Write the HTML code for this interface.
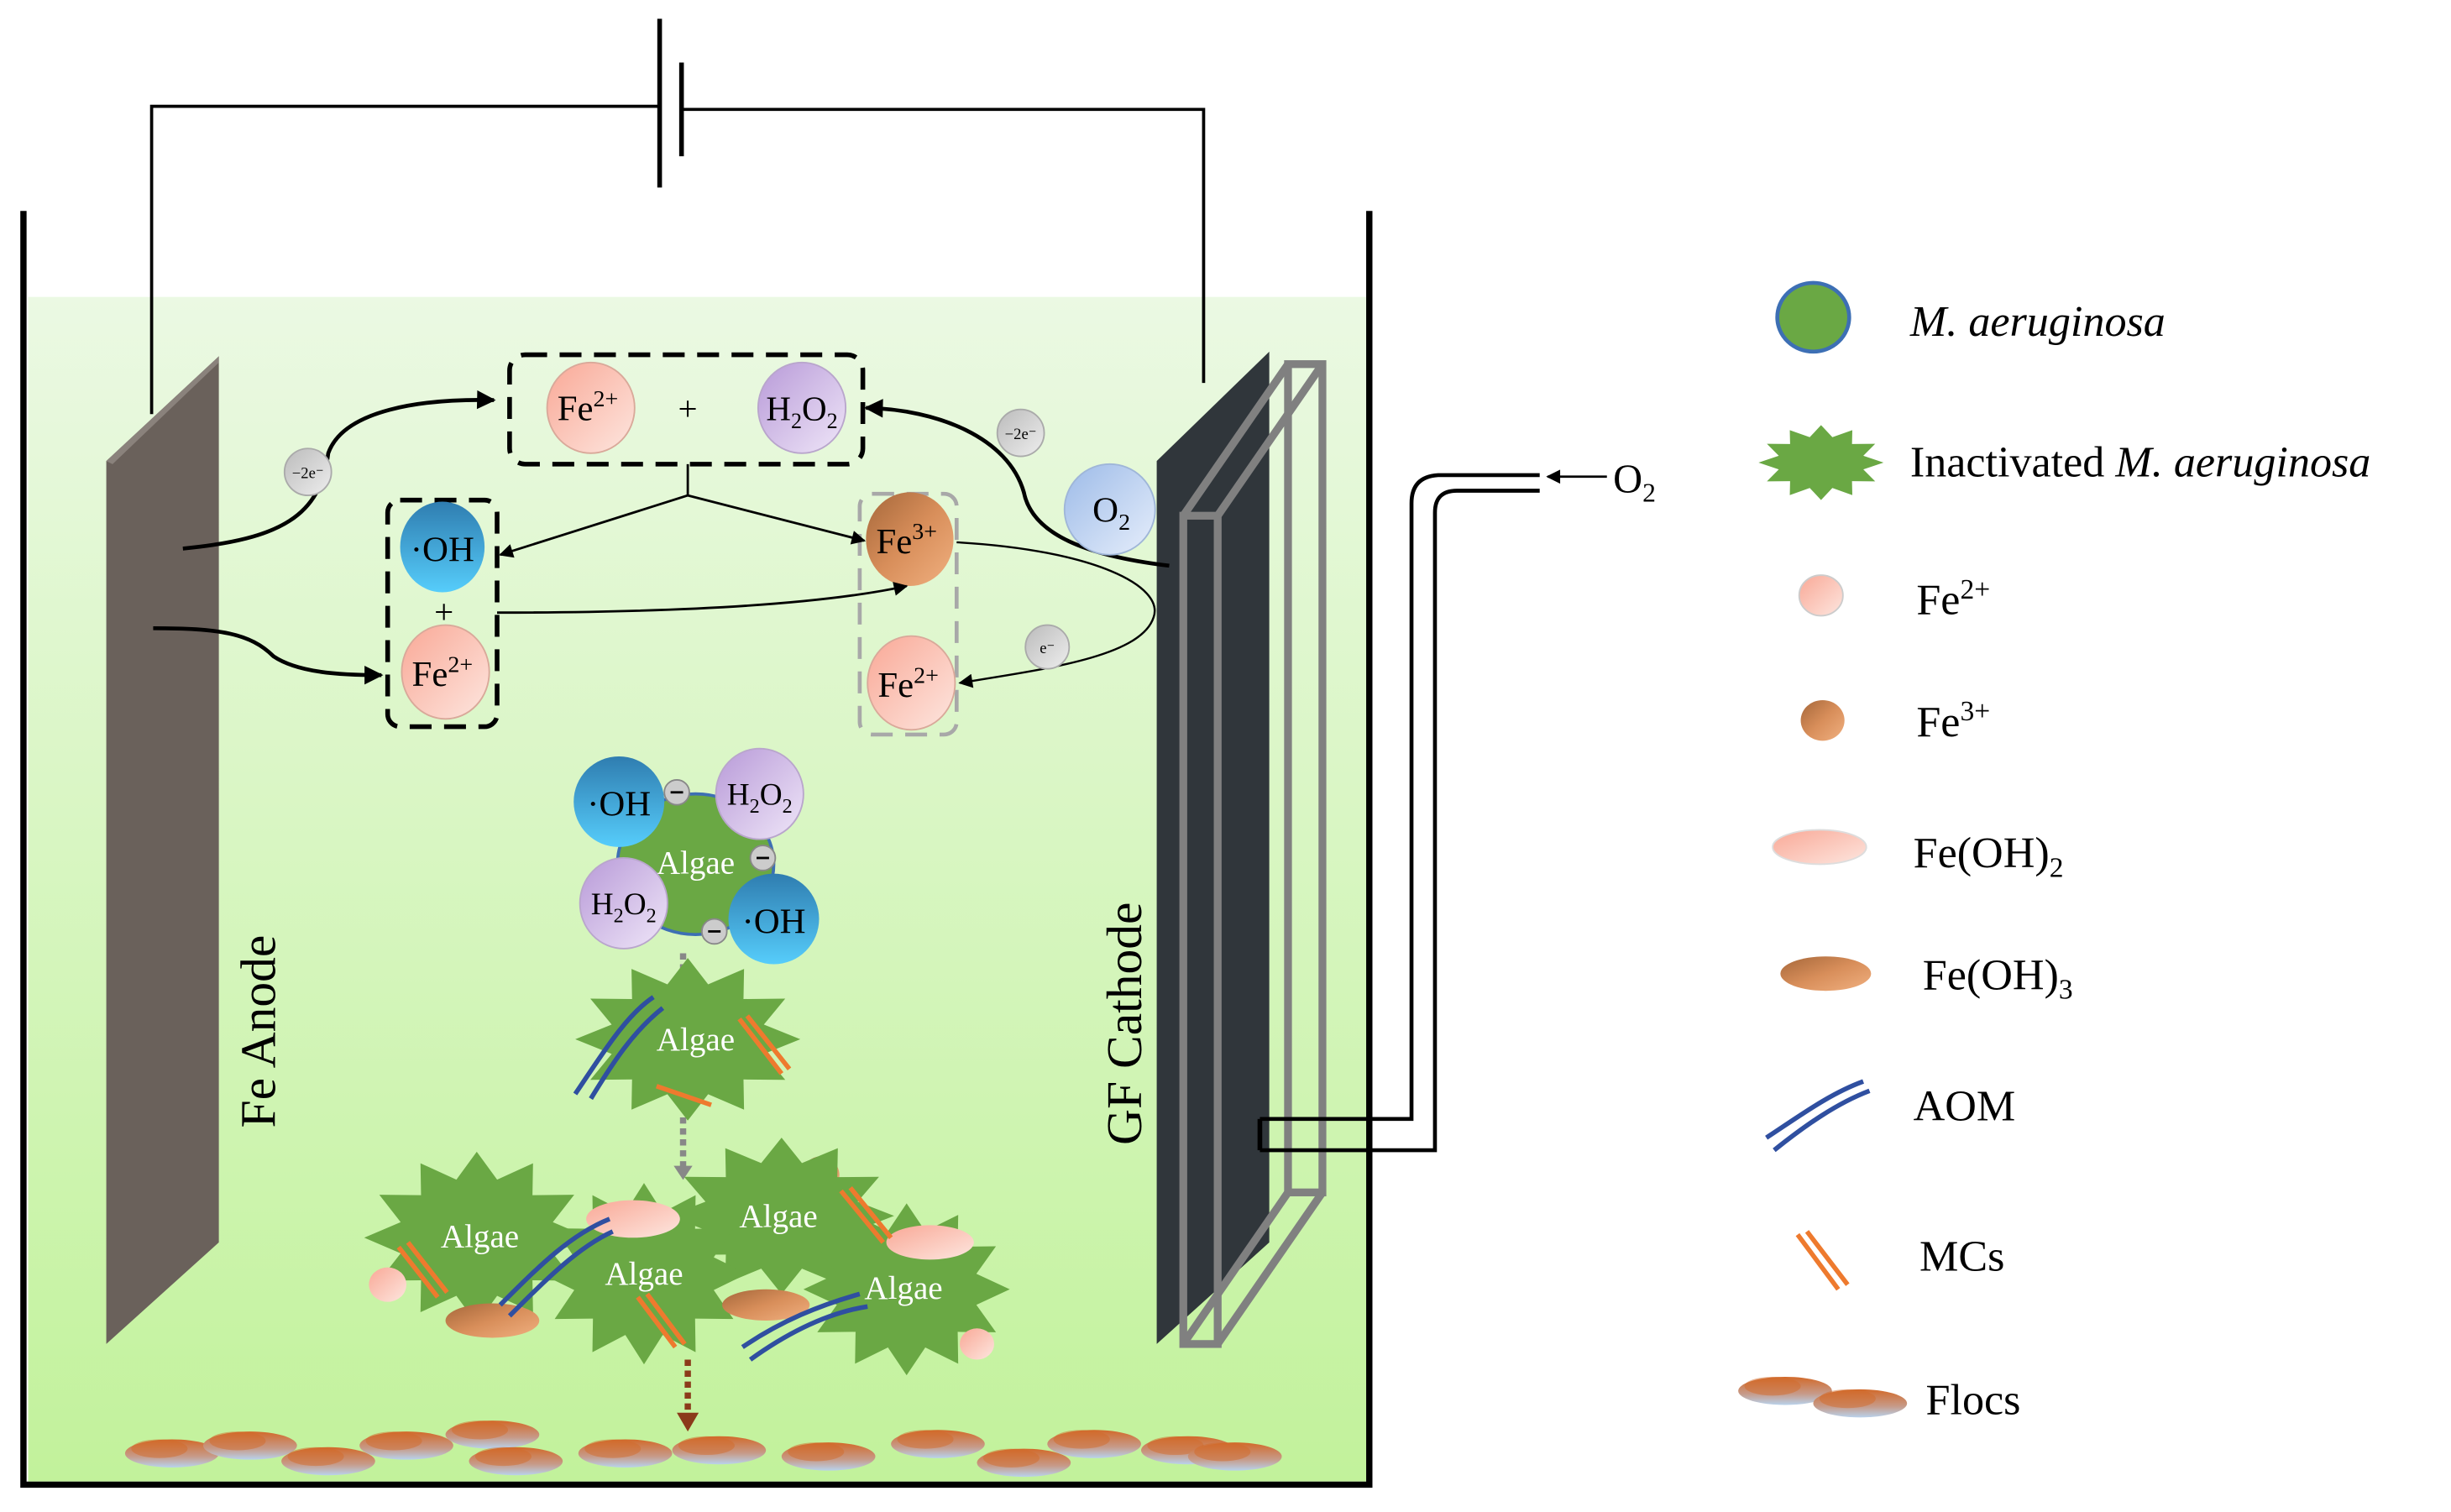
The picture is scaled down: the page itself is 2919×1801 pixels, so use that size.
<!DOCTYPE html>
<html><head><meta charset="utf-8">
<style>
html,body{margin:0;padding:0;background:#fff;}
svg{display:block;}
text{font-family:"Liberation Serif",serif;}
</style></head>
<body>
<svg width="2919" height="1801" viewBox="0 0 1568 967.5" preserveAspectRatio="none" xmlns="http://www.w3.org/2000/svg">
<defs>
<linearGradient id="water" x1="0" y1="0" x2="0" y2="1">
<stop offset="0" stop-color="#ebf9e3"/><stop offset="1" stop-color="#c2f29b"/></linearGradient>
<linearGradient id="fe2" x1="0" y1="0" x2="1" y2="1"><stop offset="0" stop-color="#f9a896"/><stop offset="1" stop-color="#fde6df"/></linearGradient>
<linearGradient id="fe3" x1="0" y1="0" x2="1" y2="1"><stop offset="0" stop-color="#a5673a"/><stop offset="0.5" stop-color="#d88e5a"/><stop offset="1" stop-color="#f0b080"/></linearGradient>
<linearGradient id="h2o2" x1="0" y1="0" x2="1" y2="1"><stop offset="0" stop-color="#b89ad8"/><stop offset="1" stop-color="#efe6f8"/></linearGradient>
<linearGradient id="oh" x1="0" y1="0" x2="0" y2="1"><stop offset="0" stop-color="#2f7db0"/><stop offset="1" stop-color="#56cdfb"/></linearGradient>
<linearGradient id="o2" x1="0" y1="0" x2="1" y2="1"><stop offset="0" stop-color="#9dbbe8"/><stop offset="1" stop-color="#e6eefb"/></linearGradient>
<linearGradient id="el" x1="0" y1="0" x2="1" y2="1"><stop offset="0" stop-color="#bbb"/><stop offset="1" stop-color="#eee"/></linearGradient>
<linearGradient id="floc" x1="0" y1="0" x2="0" y2="1"><stop offset="0" stop-color="#d26a2a"/><stop offset="0.6" stop-color="#c79a88"/><stop offset="1" stop-color="#b9d2ec"/></linearGradient>
<polygon id="star" points="1,0 .676,.181 .866,.5 .495,.495 .5,.866 .181,.676 0,1 -.181,.676 -.5,.866 -.495,.495 -.866,.5 -.676,.181 -1,0 -.676,-.181 -.866,-.5 -.495,-.495 -.5,-.866 -.181,-.676 0,-1 .181,-.676 .5,-.866 .495,-.495 .866,-.5 .676,-.181" fill="#6aa844"/>
<marker id="ah" viewBox="0 0 10 10" refX="9" refY="5" markerUnits="userSpaceOnUse" markerWidth="11" markerHeight="9" orient="auto"><path d="M0,0 L10,5 L0,10 z" fill="#000"/></marker>
<marker id="ahs" viewBox="0 0 10 10" refX="9" refY="5" markerUnits="userSpaceOnUse" markerWidth="14" markerHeight="12" orient="auto"><path d="M0,0 L10,5 L0,10 z" fill="#000"/></marker>
<g id="floc1"><ellipse cx="0" cy="0" rx="30" ry="9" fill="url(#floc)"/><ellipse cx="-8" cy="-3" rx="18" ry="6" fill="#d26a2a" opacity=".5"/></g>
</defs>

<rect x="18" y="190" width="856" height="758" fill="url(#water)"/>
<path d="M15,135 L15,950 L876,950 L876,135" fill="none" stroke="#000" stroke-width="4"/>

<path d="M97,265 L97,68 L422,68" fill="none" stroke="#000" stroke-width="2"/>
<path d="M436,70 L770,70 L770,245" fill="none" stroke="#000" stroke-width="2"/>
<line x1="422" y1="12" x2="422" y2="120" stroke="#000" stroke-width="3"/>
<line x1="436" y1="40" x2="436" y2="100" stroke="#000" stroke-width="3"/>

<polygon points="68,295 140,228 140,795 68,860" fill="#6a615b"/>
<polygon points="68,295 140,228 140,232 72,297" fill="#8a827c"/>
<text transform="translate(176,660) rotate(-90)" font-size="32" text-anchor="middle">Fe  Anode</text>

<polygon points="740,295 812,225 812,795 740,860" fill="#30363b"/>
<g fill="none" stroke="#808080" stroke-width="5">
<rect x="757" y="330" width="22" height="530"/>
<rect x="824" y="233" width="22" height="530"/>
<line x1="757" y1="330" x2="824" y2="233"/><line x1="779" y1="330" x2="846" y2="233"/>
<line x1="757" y1="860" x2="824" y2="763"/><line x1="779" y1="860" x2="846" y2="763"/>
</g>
<text transform="translate(730,655) rotate(-90)" font-size="32" text-anchor="middle">GF  Cathode</text>
<path d="M806,716 L903,716 L903,322 Q903,305 920,304 L985,304" fill="none" stroke="#000" stroke-width="2.5"/>
<path d="M806,736 L918,736 L918,328 Q918,314 932,314 L985,314" fill="none" stroke="#000" stroke-width="2.5"/>
<line x1="806" y1="716" x2="806" y2="736" stroke="#000" stroke-width="3"/>
<line x1="1028" y1="305" x2="990" y2="305" stroke="#000" stroke-width="1.5" marker-end="url(#ah)"/>
<text x="1032" y="315" font-size="26">O<tspan font-size="17" dy="6">2</tspan></text>

<rect x="326" y="227" width="226" height="70" rx="10" fill="none" stroke="#000" stroke-width="3" stroke-dasharray="14,8"/>
<ellipse cx="378" cy="261" rx="28" ry="29" fill="url(#fe2)" stroke="#d9a99a"/>
<text x="376" y="269" font-size="23" text-anchor="middle">Fe<tspan font-size="15" dy="-9">2+</tspan></text>
<text x="440" y="269" font-size="22" text-anchor="middle">+</text>
<ellipse cx="513" cy="261" rx="28" ry="29" fill="url(#h2o2)" stroke="#b9a6cc"/>
<text x="513" y="269" font-size="22" text-anchor="middle">H<tspan font-size="14" dy="5">2</tspan><tspan dy="-5">O</tspan><tspan font-size="14" dy="5">2</tspan></text>

<rect x="248" y="320" width="70" height="145" rx="8" fill="none" stroke="#000" stroke-width="3" stroke-dasharray="14,8"/>
<ellipse cx="283" cy="350" rx="27" ry="29" fill="url(#oh)"/>
<text x="283" y="359" font-size="23" text-anchor="middle">·OH</text>
<text x="284" y="399" font-size="22" text-anchor="middle">+</text>
<ellipse cx="285" cy="430" rx="28" ry="30" fill="url(#fe2)" stroke="#d9a99a"/>
<text x="283" y="439" font-size="23" text-anchor="middle">Fe<tspan font-size="15" dy="-9">2+</tspan></text>

<rect x="550" y="316" width="62" height="154" rx="8" fill="none" stroke="#a8a8a8" stroke-width="2.5" stroke-dasharray="14,8"/>
<ellipse cx="582" cy="345" rx="28" ry="30" fill="url(#fe3)"/>
<text x="580" y="354" font-size="23" text-anchor="middle">Fe<tspan font-size="15" dy="-9">3+</tspan></text>
<ellipse cx="583" cy="437" rx="28" ry="30" fill="url(#fe2)" stroke="#d9a99a"/>
<text x="581" y="446" font-size="23" text-anchor="middle">Fe<tspan font-size="15" dy="-9">2+</tspan></text>

<path d="M440,297 L440,317 L320,355" fill="none" stroke="#000" stroke-width="1.5" marker-end="url(#ah)"/>
<path d="M440,317 L553,346" fill="none" stroke="#000" stroke-width="1.5" marker-end="url(#ah)"/>
<path d="M318,392 C420,392 520,388 580,375" fill="none" stroke="#000" stroke-width="1.5" marker-end="url(#ah)"/>
<path d="M612,347 C700,352 745,375 738,395 C730,420 670,428 614,437" fill="none" stroke="#000" stroke-width="1.3" marker-end="url(#ah)"/>
<path d="M117,351 C180,345 205,330 210,290 C220,262 270,255 316,256" fill="none" stroke="#000" stroke-width="2.5" marker-end="url(#ahs)"/>
<path d="M98,402 C140,402 160,405 175,420 C190,430 215,432 244,432" fill="none" stroke="#000" stroke-width="2.5" marker-end="url(#ahs)"/>
<path d="M748,362 C690,355 660,340 655,315 C645,280 600,262 554,261" fill="none" stroke="#000" stroke-width="2.5" marker-end="url(#ahs)"/>

<ellipse cx="197" cy="302" rx="15" ry="15" fill="url(#el)" stroke="#aaa"/>
<text x="197" y="306" font-size="10" text-anchor="middle">−2e⁻</text>
<ellipse cx="653" cy="277" rx="15" ry="15" fill="url(#el)" stroke="#aaa"/>
<text x="653" y="281" font-size="10" text-anchor="middle">−2e⁻</text>
<ellipse cx="670" cy="414" rx="14" ry="14" fill="url(#el)" stroke="#aaa"/>
<text x="670" y="418" font-size="10" text-anchor="middle">e⁻</text>
<ellipse cx="710" cy="326" rx="29" ry="29" fill="url(#o2)" stroke="#9fb6d8"/>
<text x="711" y="334" font-size="23" text-anchor="middle">O<tspan font-size="15" dy="5">2</tspan></text>

<ellipse cx="445" cy="553" rx="50" ry="45" fill="#6aa844" stroke="#3d6fb4" stroke-width="2"/>
<text x="445" y="559" font-size="21" fill="#fff" text-anchor="middle">Algae</text>
<ellipse cx="396" cy="513" rx="29" ry="29" fill="url(#oh)"/>
<text x="396" y="522" font-size="23" text-anchor="middle">·OH</text>
<ellipse cx="486" cy="508" rx="28" ry="29" fill="url(#h2o2)" stroke="#b9a6cc"/>
<text x="486" y="515" font-size="20" text-anchor="middle">H<tspan font-size="13" dy="5">2</tspan><tspan dy="-5">O</tspan><tspan font-size="13" dy="5">2</tspan></text>
<ellipse cx="399" cy="578" rx="28" ry="29" fill="url(#h2o2)" stroke="#b9a6cc"/>
<text x="399" y="585" font-size="20" text-anchor="middle">H<tspan font-size="13" dy="5">2</tspan><tspan dy="-5">O</tspan><tspan font-size="13" dy="5">2</tspan></text>
<ellipse cx="495" cy="588" rx="29" ry="29" fill="url(#oh)"/>
<text x="495" y="597" font-size="23" text-anchor="middle">·OH</text>
<g fill="#ccc" stroke="#888"><circle cx="433" cy="507" r="8"/><circle cx="488" cy="549" r="8"/><circle cx="457" cy="596" r="8"/></g>
<g stroke="#000" stroke-width="1.5"><line x1="429" y1="507" x2="437" y2="507"/><line x1="484" y1="549" x2="492" y2="549"/><line x1="453" y1="596" x2="461" y2="596"/></g>

<line x1="437" y1="610" x2="437" y2="640" stroke="#888" stroke-width="4" stroke-dasharray="4,3"/>
<path d="M431,638 L443,638 L437,647 z" fill="#888"/>
<line x1="437" y1="715" x2="437" y2="748" stroke="#888" stroke-width="4" stroke-dasharray="4,3"/>
<path d="M431,746 L443,746 L437,755 z" fill="#888"/>
<line x1="440" y1="870" x2="440" y2="906" stroke="#8b3a1a" stroke-width="4" stroke-dasharray="4,3"/>
<path d="M433,904 L447,904 L440,916 z" fill="#8b3a1a"/>

<use href="#star" transform="translate(440,665) scale(72,52)"/>
<text x="445" y="672" font-size="21" fill="#fff" text-anchor="middle">Algae</text>
<g fill="none" stroke="#2f4fa0" stroke-width="3"><path d="M368,700 C385,675 400,650 418,638"/><path d="M378,703 C392,680 405,660 424,645"/></g>
<g fill="none" stroke="#ee7a2e" stroke-width="3"><path d="M473,652 L500,687"/><path d="M478,650 L505,684"/><path d="M420,695 L455,707"/></g>

<ellipse cx="302" cy="762" rx="12" ry="12" fill="url(#fe3)"/>
<ellipse cx="525" cy="752" rx="12" ry="12" fill="url(#fe3)"/>
<use href="#star" transform="translate(305,792) scale(72,55)"/>
<use href="#star" transform="translate(500,778) scale(72,50)"/>
<use href="#star" transform="translate(412,815) scale(66,58)"/>
<use href="#star" transform="translate(580,825) scale(66,55)"/>
<ellipse cx="405" cy="780" rx="30" ry="12" fill="url(#fe2)"/>
<ellipse cx="595" cy="795" rx="28" ry="11" fill="url(#fe2)"/>
<ellipse cx="315" cy="845" rx="30" ry="11" fill="url(#fe3)"/>
<ellipse cx="490" cy="835" rx="28" ry="10" fill="url(#fe3)"/>
<ellipse cx="248" cy="822" rx="12" ry="11" fill="url(#fe2)"/>
<ellipse cx="625" cy="860" rx="11" ry="10" fill="url(#fe2)"/>
<text x="307" y="798" font-size="21" fill="#fff" text-anchor="middle">Algae</text>
<text x="498" y="785" font-size="21" fill="#fff" text-anchor="middle">Algae</text>
<text x="412" y="822" font-size="21" fill="#fff" text-anchor="middle">Algae</text>
<text x="578" y="831" font-size="21" fill="#fff" text-anchor="middle">Algae</text>
<g fill="none" stroke="#2f4fa0" stroke-width="3"><path d="M320,835 C345,810 365,790 390,780"/><path d="M326,842 C350,818 370,798 392,788"/><path d="M475,862 C500,845 525,835 550,828"/><path d="M480,870 C505,852 530,840 555,836"/></g>
<g fill="none" stroke="#ee7a2e" stroke-width="3"><path d="M255,798 L280,830"/><path d="M261,795 L286,827"/><path d="M538,762 L565,795"/><path d="M544,760 L570,792"/><path d="M408,830 L432,862"/><path d="M414,828 L438,860"/></g>

<use href="#floc1" x="110" y="930"/><use href="#floc1" x="160" y="925"/><use href="#floc1" x="210" y="935"/>
<use href="#floc1" x="260" y="925"/><use href="#floc1" x="315" y="918"/><use href="#floc1" x="330" y="935"/>
<use href="#floc1" x="400" y="930"/><use href="#floc1" x="460" y="928"/><use href="#floc1" x="530" y="932"/>
<use href="#floc1" x="600" y="924"/><use href="#floc1" x="655" y="936"/><use href="#floc1" x="700" y="924"/>
<use href="#floc1" x="760" y="928"/><use href="#floc1" x="790" y="932"/>

<ellipse cx="1160" cy="203" rx="23" ry="22" fill="#6aa844" stroke="#3d6fb4" stroke-width="2.5"/>
<text x="1222" y="215" font-size="28" font-style="italic">M.  aeruginosa</text>
<use href="#star" transform="translate(1165,296) scale(40,24)"/>
<text x="1222" y="305" font-size="28">Inactivated <tspan font-style="italic">M.  aeruginosa</tspan></text>
<ellipse cx="1165" cy="381" rx="14" ry="13" fill="url(#fe2)" stroke="#ccc"/>
<text x="1226" y="393" font-size="28">Fe<tspan font-size="18" dy="-10">2+</tspan></text>
<ellipse cx="1166" cy="461" rx="14" ry="13" fill="url(#fe3)"/>
<text x="1226" y="471" font-size="28">Fe<tspan font-size="18" dy="-10">3+</tspan></text>
<ellipse cx="1164" cy="542" rx="30" ry="11" fill="url(#fe2)" stroke="#ddd"/>
<text x="1224" y="555" font-size="28">Fe(OH)<tspan font-size="18" dy="6">2</tspan></text>
<ellipse cx="1168" cy="623" rx="29" ry="11" fill="url(#fe3)"/>
<text x="1230" y="633" font-size="28">Fe(OH)<tspan font-size="18" dy="6">3</tspan></text>
<g fill="none" stroke="#2f4fa0" stroke-width="3"><path d="M1130,728 C1150,715 1170,700 1192,692"/><path d="M1135,736 C1155,720 1175,706 1196,698"/></g>
<text x="1224" y="717" font-size="28">AOM</text>
<g fill="none" stroke="#ee7a2e" stroke-width="3"><path d="M1150,790 L1176,825"/><path d="M1156,788 L1182,822"/></g>
<text x="1228" y="813" font-size="28">MCs</text>
<use href="#floc1" x="1142" y="890"/><use href="#floc1" x="1190" y="898"/>
<text x="1232" y="905" font-size="28">Flocs</text>
</svg>
</body></html>
